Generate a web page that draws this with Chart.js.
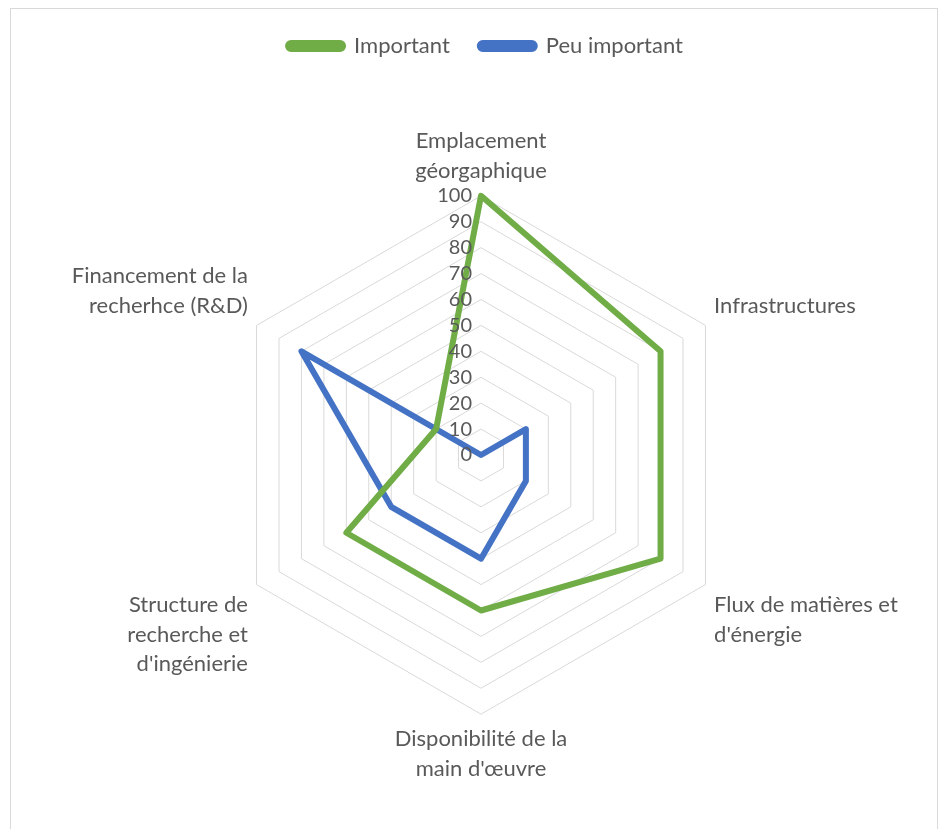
<!DOCTYPE html>
<html>
<head>
<meta charset="utf-8">
<script src="https://cdn.jsdelivr.net/npm/chart.js@4.4.0/dist/chart.umd.min.js"></script>
<style>
    body { margin: 0; background: #ffffff; }
    #wrap { position: relative; width: 939px; height: 829px; overflow: hidden; }
    #frame { position: absolute; left: 10px; top: 8px; width: 926px; height: 840px; border: 1px solid #d9d9d9; }
    canvas { position: absolute; left: 0; top: 0; }
</style>
</head>
<body>
<div id="wrap">
    <div id="frame"></div>
    <canvas id="radarChart" width="939" height="829"></canvas>
</div>
<script>
// Chart data
const categories = [
    ['Emplacement', 'géorgaphique'],
    'Infrastructures',
    ['Flux de matières et', "d'énergie"],
    ['Disponibilité de la', "main d'œuvre"],
    ['Structure de', 'recherche et', "d'ingénierie"],
    ['Financement de la', 'recherhce (R&D)']
];
const importantValues = [100, 80, 80, 60, 60, 20];
const peuImportantValues = [0, 20, 20, 40, 40, 80];
const tickValues = [0, 10, 20, 30, 40, 50, 60, 70, 80, 90, 100];

const FONT = 'Lato, "Open Sans", sans-serif';
const TEXT_COLOR = '#595959';

// Tick labels sit left of the vertical axis, like Excel does it
const tickLabelPlugin = {
    id: 'tickLabels',
    afterDatasetsDraw(chart) {
        const scale = chart.scales.r;
        const ctx = chart.ctx;
        ctx.save();
        ctx.font = '20px ' + FONT;
        ctx.fillStyle = TEXT_COLOR;
        ctx.textAlign = 'right';
        ctx.textBaseline = 'middle';
        tickValues.forEach(v => {
            const y = scale.yCenter - scale.getDistanceFromCenterForValue(v);
            ctx.fillText(String(v), scale.xCenter - 9, y);
        });
        ctx.restore();
    }
};

// Leave some room under the legend without moving the legend itself
const legendGapPlugin = {
    id: 'legendGap',
    beforeInit(chart) {
        const fit = chart.legend.fit;
        chart.legend.fit = function () {
            fit.call(this);
            this.height += 60;
        };
    }
};

new Chart(document.getElementById('radarChart'), {
    type: 'radar',
    data: {
        labels: categories,
        datasets: [
            {
                label: 'Important',
                data: importantValues,
                borderColor: '#70ad47',
                backgroundColor: '#70ad47',
                borderWidth: 6,
                borderJoinStyle: 'round',
                fill: false,
                pointRadius: 0,
                pointHoverRadius: 0
            },
            {
                label: 'Peu important',
                data: peuImportantValues,
                borderColor: '#4472c4',
                backgroundColor: '#4472c4',
                borderWidth: 6,
                borderJoinStyle: 'round',
                fill: false,
                pointRadius: 0,
                pointHoverRadius: 0
            }
        ]
    },
    options: {
        responsive: false,
        animation: false,
        layout: { padding: { top: 5, bottom: 44, left: 52, right: 20 } },
        plugins: {
            tooltip: { enabled: false },
            legend: {
                position: 'top',
                labels: {
                    boxWidth: 55,
                    boxHeight: 6,
                    useBorderRadius: true,
                    borderRadius: 3,
                    color: TEXT_COLOR,
                    padding: 30,
                    font: { family: FONT, size: 22 }
                }
            }
        },
        scales: {
            r: {
                min: 0,
                max: 100,
                ticks: { stepSize: 10, display: false },
                grid: { color: '#d9d9d9', lineWidth: 1 },
                angleLines: { display: false },
                pointLabels: {
                    color: TEXT_COLOR,
                    font: { family: FONT, size: 22, lineHeight: 1.36 },
                    padding: 10
                }
            }
        }
    },
    plugins: [tickLabelPlugin, legendGapPlugin]
});
</script>
</body>
</html>
